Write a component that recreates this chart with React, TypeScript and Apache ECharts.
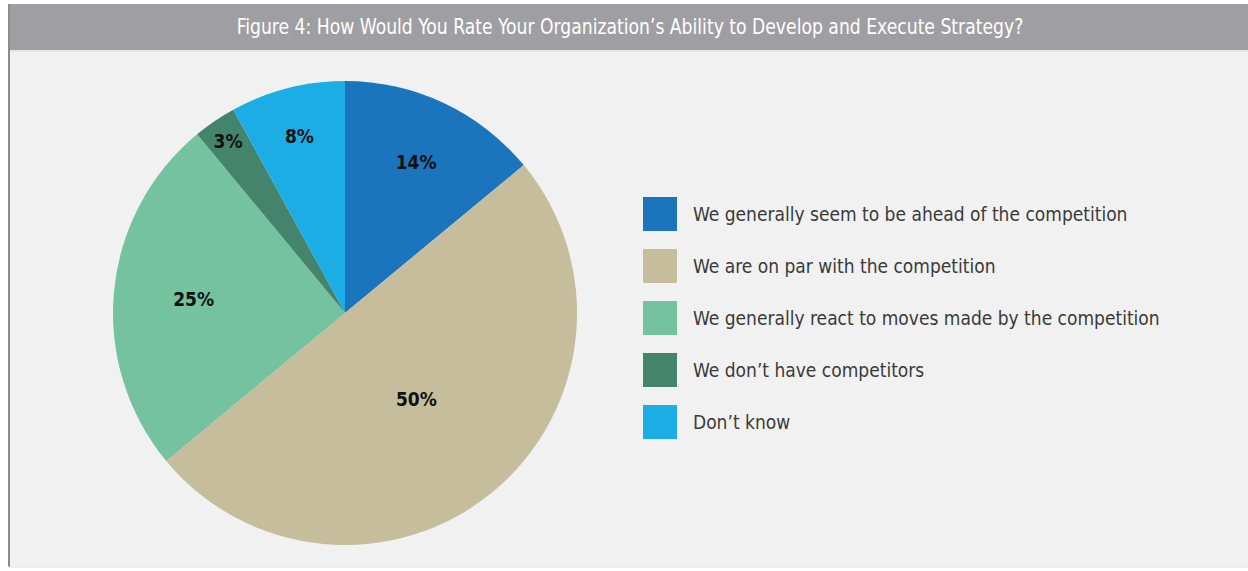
import React, { useEffect, useRef } from "react";
import * as echarts from "echarts";

const titleText = "Figure 4: How Would You Rate Your Organization’s Ability to Develop and Execute Strategy?";
const categories = [
  "We generally seem to be ahead of the competition",
  "We are on par with the competition",
  "We generally react to moves made by the competition",
  "We don’t have competitors",
  "Don’t know",
];
const values = [14, 50, 25, 3, 8];
const colors = ["#1b75bc", "#c5bd9b", "#74c2a0", "#44846c", "#1badE3"];
const labelRadius = [164, 109, 149, 205, 180];

const FONT = '"Liberation Sans Narrow", "DejaVu Sans Condensed", "Roboto Condensed", "Liberation Sans", sans-serif';

export default function App() {
  const ref = useRef<HTMLDivElement>(null);
  useEffect(() => {
    const prevMargin = document.body.style.margin;
    document.body.style.margin = "0";
    const chart = echarts.init(ref.current!, null, { renderer: "svg" });
    const center = [345, 313];
    const R = 232;
    const baseData = categories.map((name, i) => ({
      name,
      value: values[i],
      itemStyle: { color: colors[i] },
    }));
    const labelSeries = labelRadius.map((d, k) => ({
      type: "pie",
      name: "label" + k,
      center,
      radius: [d - 1, d + 1],
      startAngle: 90,
      clockwise: true,
      silent: true,
      legendHoverLink: false,
      emphasis: { disabled: true },
      itemStyle: { color: "rgba(0,0,0,0)", borderWidth: 0 },
      labelLine: { show: false },
      data: categories.map((name, i) => ({
        name,
        value: values[i],
        itemStyle: { color: "rgba(0,0,0,0)" },
        label: {
          show: i === k,
          position: "inside",
          formatter: "{c}%",
          color: "#111",
          fontSize: 19,
          fontWeight: "bold",
          fontFamily: FONT,
        },
      })),
    }));
    chart.setOption({
      animation: false,
      backgroundColor: "#ffffff",
      graphic: [
        { type: "rect", z: -10, shape: { x: 8, y: 4, width: 1240, height: 563 }, style: { fill: "#f1f1f1" } },
        { type: "rect", z: -9, shape: { x: 8, y: 4, width: 1240, height: 46 }, style: { fill: "#9f9ea3" } },
        { type: "line", z: -9, shape: { x1: 8, y1: 51, x2: 1248, y2: 51 }, style: { stroke: "#e4e4e4", lineWidth: 2 } },
        { type: "line", z: -8, shape: { x1: 9, y1: 4, x2: 9, y2: 567 }, style: { stroke: "#8c8c8c", lineWidth: 2 } },
        { type: "line", z: -8, shape: { x1: 8, y1: 567, x2: 1248, y2: 567 }, style: { stroke: "#e2e2e2", lineWidth: 1 } },
        {
          type: "text",
          z: 10,
          x: 630,
          y: 27,
          scaleX: 0.87,
          style: {
            text: titleText,
            fill: "#ffffff",
            font: `22px ${FONT}`,
            textAlign: "center",
            textVerticalAlign: "middle",
          },
        },
      ],
      legend: {
        orient: "vertical",
        left: 643,
        top: 197,
        padding: 0,
        itemWidth: 34,
        itemHeight: 34,
        itemGap: 18,
        icon: "rect",
        selectedMode: false,
        data: categories,
        textStyle: {
          fontSize: 19,
          color: "#3a3a3a",
          fontFamily: FONT,
          padding: [0, 0, 0, 11],
        },
      },
      series: [
        {
          type: "pie",
          name: "main",
          center,
          radius: [0, R],
          startAngle: 90,
          clockwise: true,
          silent: true,
          emphasis: { disabled: true },
          itemStyle: { borderWidth: 0 },
          label: { show: false },
          labelLine: { show: false },
          data: baseData,
        },
        ...labelSeries,
      ],
    });
    return () => {
      chart.dispose();
      document.body.style.margin = prevMargin;
    };
  }, []);
  return <div ref={ref} style={{ width: 1248, height: 571 }} />;
}
